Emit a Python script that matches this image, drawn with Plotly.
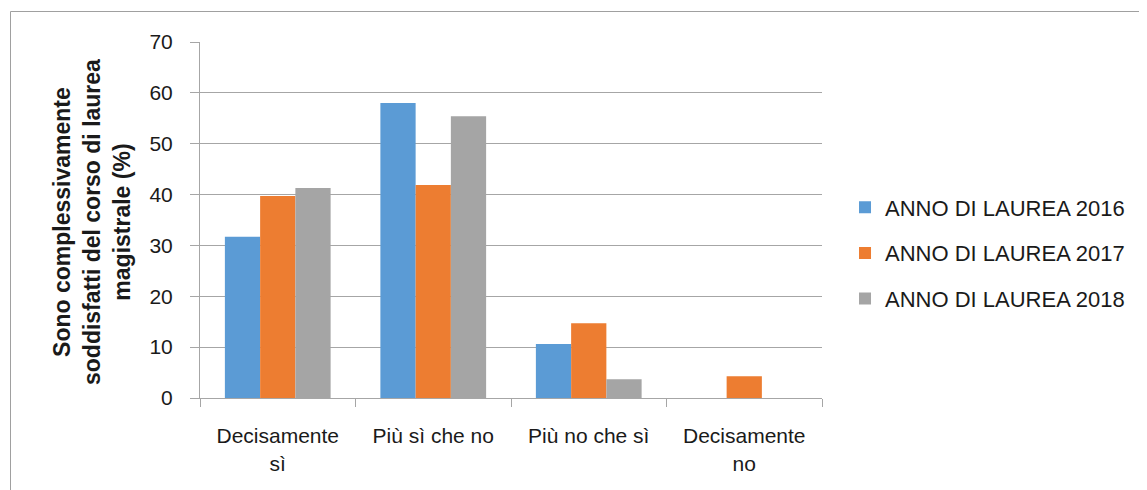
import plotly.graph_objects as go

categories = ["Decisamente<br>sì", "Più sì che no", "Più no che sì", "Decisamente<br>no"]
series_names = ["ANNO DI LAUREA 2016", "ANNO DI LAUREA 2017", "ANNO DI LAUREA 2018"]
values_2016 = [31.7, 58.0, 10.6, 0.0]
values_2017 = [39.7, 41.9, 14.7, 4.3]
values_2018 = [41.3, 55.4, 3.7, 0.0]
colors = ["#5B9BD5", "#ED7D31", "#A5A5A5"]
y_ticks = [0, 10, 20, 30, 40, 50, 60, 70]

OFF = 8  # page body margin
W, H = 1147, 490
L, R, T, B = 200 - OFF, W - (822 - OFF), 42 - OFF, H - (398 - OFF)
pw, ph = W - L - R, H - T - B

def px_x(p):
    return (p - OFF - L) / pw

def px_y(p):
    return (H - B - (p - OFF)) / ph

FONT = "Liberation Sans"
TXT = "#1a1a1a"

fig = go.Figure()
for i, (name, vals) in enumerate(zip(series_names, [values_2016, values_2017, values_2018])):
    fig.add_trace(go.Bar(x=categories, y=vals, name=name, marker_color=colors[i],
                         marker_line_width=0, legendgroup=name))

fig.update_layout(
    width=W, height=H,
    margin=dict(l=L, r=R, t=T, b=B),
    paper_bgcolor="white", plot_bgcolor="white",
    barmode="group", bargap=0.32, bargroupgap=0,
    font=dict(family=FONT, size=21, color=TXT),
    legend=dict(x=1.037, y=px_y(253), xanchor="left", yanchor="middle",
                font=dict(size=22, family=FONT, color=TXT),
                tracegroupgap=14, traceorder="grouped"),
    xaxis=dict(showline=True, linecolor="#A6A6A6", linewidth=1,
               ticks="outside", tickson="boundaries", ticklen=8, tickcolor="#A6A6A6",
               ticklabelstandoff=19,
               tickfont=dict(size=21, family=FONT, color=TXT)),
    yaxis=dict(range=[0, 70], tickvals=y_ticks, showline=True, linecolor="#A6A6A6",
               linewidth=1, ticks="outside", ticklen=9, tickcolor="#A6A6A6",
               ticklabelstandoff=13,
               showgrid=True, gridcolor="#A6A6A6", gridwidth=1, zeroline=False,
               tickfont=dict(size=21, family=FONT, color=TXT)),
    shapes=[dict(type="rect", xref="paper", yref="paper",
                 x0=px_x(10.5), x1=px_x(W + 20), y0=px_y(H + 20), y1=px_y(11.5),
                 line=dict(color="#A0A0A0", width=1), fillcolor="rgba(0,0,0,0)", layer="below")],
    annotations=[dict(text="<b>Sono complessivamente<br>soddisfatti del corso di laurea<br>magistrale (%)</b>",
                      xref="paper", yref="paper", x=px_x(92), y=px_y(222),
                      textangle=-90, showarrow=False, xanchor="center", yanchor="middle",
                      font=dict(size=23, family=FONT, color=TXT))],
)

fig.write_html("out.html")
